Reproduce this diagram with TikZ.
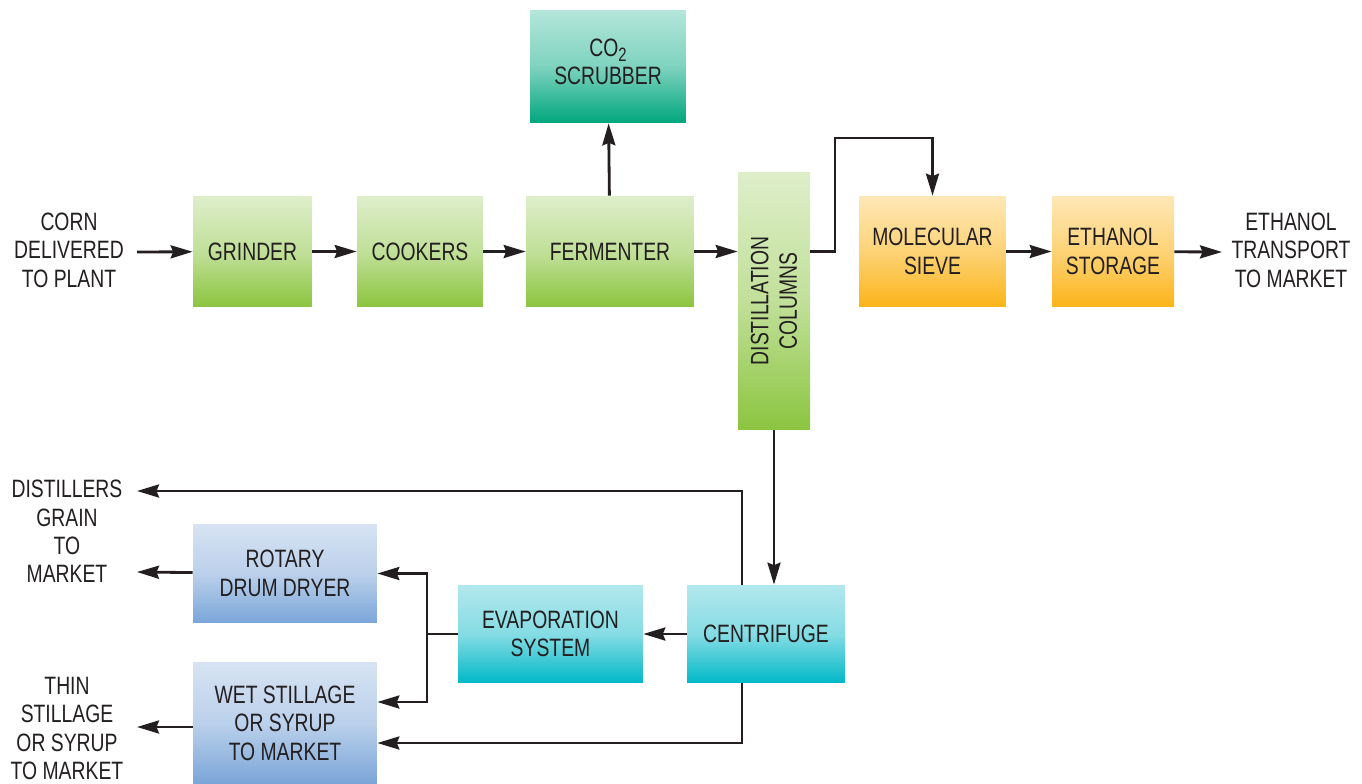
\documentclass[tikz,border=0pt]{standalone}
\usepackage{fontspec}
\setmainfont[FakeStretch=0.77]{Liberation Sans}
\usetikzlibrary{arrows.meta}

\definecolor{ink}{RGB}{35,31,32}
\definecolor{grnA}{RGB}{222,238,202}
\definecolor{grnB}{RGB}{139,197,63}
\definecolor{tealA}{RGB}{180,230,218}
\definecolor{tealB}{RGB}{0,166,126}
\definecolor{orgA}{RGB}{254,231,182}
\definecolor{orgB}{RGB}{251,180,24}
\definecolor{bluA}{RGB}{215,227,243}
\definecolor{bluB}{RGB}{122,165,216}
\definecolor{cynA}{RGB}{178,232,237}
\definecolor{cynB}{RGB}{0,184,200}

\newcommand{\lowtwo}{\raisebox{-0.4ex}{\fontsize{11}{11}\selectfont 2}}

\tikzset{
  box/.style={inner sep=0pt, align=center, text=ink},
  greenbox/.style={box, top color=grnA, bottom color=grnB, middle color=grnA!65!grnB},
  tealbox/.style={box, top color=tealA, bottom color=tealB, middle color=tealA!70!tealB},
  orangebox/.style={box, top color=orgA, bottom color=orgB, middle color=orgA!60!orgB},
  bluebox/.style={box, top color=bluA, bottom color=bluB, middle color=bluA!70!bluB},
  cyanbox/.style={box, top color=cynA, bottom color=cynB, middle color=cynA!75!cynB},
  lbl/.style={align=center, text=ink, inner sep=0pt},
  arr/.style={-{Stealth[length=0.44cm,width=0.26cm,inset=0.05cm]}, line width=1.6pt, draw=ink},
  wire/.style={line width=1.6pt, draw=ink},
}

\begin{document}
\begin{tikzpicture}[x=0.02cm, y=-0.02cm, font=\fontsize{14.3}{16.2}\selectfont]
  \useasboundingbox (0,0) rectangle (1362,784);

  % upper line
  \node[tealbox, minimum width=3.12cm, minimum height=2.26cm] (co2) at (608,66.5) {};
  \node[lbl] (co2lbl) at (608,62) {CO\lowtwo\\SCRUBBER};
  \node[greenbox, minimum width=2.38cm, minimum height=2.22cm] (grinder) at (252.5,251.5) {GRINDER};
  \node[greenbox, minimum width=2.52cm, minimum height=2.22cm] (cookers) at (420,251.5) {COOKERS};
  \node[greenbox, minimum width=3.36cm, minimum height=2.22cm] (ferm) at (610,251.5) {FERMENTER};
  \node[greenbox, minimum width=1.44cm, minimum height=5.16cm] (dist) at (774,301) {};
  \node[lbl, rotate=90] (distlbl) at (dist) {DISTILLATION\\COLUMNS};
  \node[orangebox, minimum width=2.94cm, minimum height=2.22cm] (sieve) at (932.5,251.5) {MOLECULAR\\SIEVE};
  \node[orangebox, minimum width=2.44cm, minimum height=2.22cm] (store) at (1113,251.5) {ETHANOL\\STORAGE};

  \node[lbl] (corn) at (69,250) {CORN\\DELIVERED\\TO PLANT};
  \node[lbl] (market) at (1291,250) {ETHANOL\\TRANSPORT\\TO MARKET};

  % lower line
  \node[bluebox, minimum width=3.68cm, minimum height=1.98cm] (dryer) at (285,573.5) {ROTARY\\DRUM DRYER};
  \node[bluebox, minimum width=3.68cm, minimum height=2.44cm] (wet) at (285,723) {WET STILLAGE\\OR SYRUP\\TO MARKET};
  \node[cyanbox, minimum width=3.70cm, minimum height=1.96cm] (evap) at (550.5,634) {EVAPORATION\\SYSTEM};
  \node[cyanbox, minimum width=3.16cm, minimum height=1.96cm] (cent) at (766,634) {CENTRIFUGE};

  \node[lbl] (grain) at (67,531.5) {DISTILLERS\\GRAIN\\TO\\MARKET};
  \node[lbl] (thin) at (67,728.5) {THIN\\STILLAGE\\OR SYRUP\\TO MARKET};

  \coordinate (cornout) at (137,252);
  \coordinate (ethin) at (1222,252);
  \coordinate (bend) at (835,138);
  \coordinate (tap) at (742,491);
  \coordinate (grainin) at (137,491);
  \coordinate (dryout) at (137,572);
  \coordinate (thinin) at (137,727);
  \coordinate (split) at (427,634);

  % arrows
  \draw[arr] (cornout) -- (grinder);
  \draw[arr] (grinder) -- (cookers);
  \draw[arr] (cookers) -- (ferm);
  \draw[arr] (ferm.east) -- (ferm.east -| dist.west);
  \draw[arr] (ferm) -- (co2);
  \draw[arr] (dist.east |- ferm.east) -| (bend) -| (sieve.north);
  \draw[arr] (sieve) -- (store);
  \draw[arr] (store) -- (ethin);
  \draw[arr] (dist.south) -- (dist.south |- cent.north);
  \draw[arr] (cent.north -| tap) -- (tap) -- (grainin);
  \draw[arr] (cent) -- (evap);
  \draw[wire] (evap) -- (split);
  \draw[arr] (split) |- (dryer.east);
  \draw[arr] (split) |- ([yshift=0.42cm]wet.east);
  \draw[arr] (cent.south -| tap) |- ([yshift=-0.4cm]wet.east);
  \draw[arr] (dryer) -- (dryout);
  \draw[arr] (wet.west |- thinin) -- (thinin);
\end{tikzpicture}
\end{document}
